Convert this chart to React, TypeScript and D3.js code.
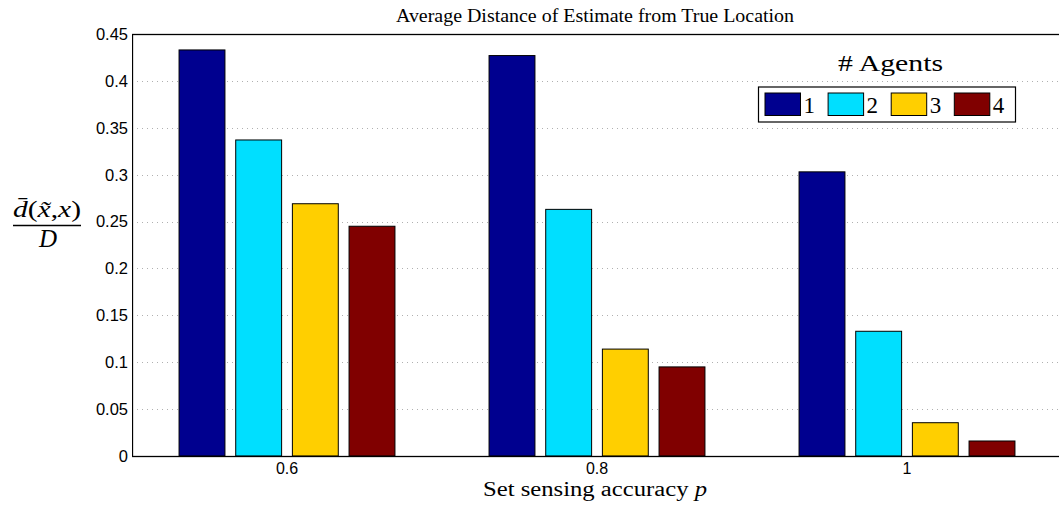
import React from "react";
import * as d3 from "d3";

const categories = ["0.6", "0.8", "1"];
const categoryValues = [0.6, 0.8, 1.0];
const seriesNames = ["1", "2", "3", "4"];
const seriesColors = ["#00008F", "#00DFFF", "#FFCF00", "#800000"];
// average normalised distance, one array per agent count
const agents1 = [0.433, 0.427, 0.303];
const agents2 = [0.337, 0.263, 0.133];
const agents3 = [0.269, 0.114, 0.0355];
const agents4 = [0.245, 0.095, 0.016];
const yTicks = [0, 0.05, 0.1, 0.15, 0.2, 0.25, 0.3, 0.35, 0.4, 0.45];

const W = 1059;
const H = 508;
const M = { left: 132, top: 34, right: 1062, bottom: 456 };
const serif = "'Liberation Serif', 'DejaVu Serif', serif";
const sans = "'Liberation Sans', Arial, sans-serif";

export default function App() {
  const series = [agents1, agents2, agents3, agents4];
  const x = d3.scaleLinear().domain([0.5, 1.1]).range([M.left, M.right]);
  const y = d3.scaleLinear().domain([0, 0.45]).range([M.bottom, M.top]);
  const groupStep = x(0.8) - x(0.6);
  const pitch = groupStep * 0.1828;
  const barW = pitch * 0.81;
  const offsets = d3.range(4).map((i) => (i - 1.5) * pitch);

  return (
    <svg
      width={W}
      height={H}
      style={{ position: "absolute", left: 0, top: 0, background: "#fff" }}
    >
      <defs>
        <clipPath id="plotClip">
          <rect x={M.left} y={M.top - 2} width={W - M.left} height={M.bottom - M.top + 4} />
        </clipPath>
      </defs>
      <g clipPath="url(#plotClip)">
        {yTicks.slice(1, -1).map((t) => (
          <line
            key={t}
            x1={M.left}
            x2={M.right}
            y1={Math.round(y(t)) + 0.5}
            y2={Math.round(y(t)) + 0.5}
            stroke="#b0b0b0"
            strokeWidth={1}
            strokeDasharray="1,4"
          />
        ))}
        {series.map((vals, si) =>
          vals.map((v, ci) => {
            const cx = x(categoryValues[ci]) + offsets[si];
            return (
              <rect
                key={`${si}-${ci}`}
                x={cx - barW / 2}
                y={y(v)}
                width={barW}
                height={y(0) - y(v)}
                fill={seriesColors[si]}
                stroke="#000"
                strokeWidth={1}
              />
            );
          })
        )}
        <rect
          x={M.left + 0.5}
          y={M.top + 0.5}
          width={M.right - M.left}
          height={M.bottom - M.top}
          fill="none"
          stroke="#000"
          strokeWidth={1.3}
        />
      </g>
      {yTicks.map((t) => (
        <text
          key={t}
          x={128}
          y={y(t)}
          dy="0.36em"
          textAnchor="end"
          fontFamily={sans}
          fontSize={16.5}
          fill="#000"
        >
          {t === 0 ? "0" : d3.format("")(t)}
        </text>
      ))}
      {categories.map((c, i) => (
        <text
          key={c}
          x={x(categoryValues[i])}
          y={474}
          textAnchor="middle"
          fontFamily={sans}
          fontSize={16}
          fill="#000"
        >
          {c}
        </text>
      ))}
      <text
        x={595}
        y={22}
        textAnchor="middle"
        fontFamily={serif}
        fontSize={19}
        textLength={398}
        lengthAdjust="spacingAndGlyphs"
        fill="#000"
      >
        Average Distance of Estimate from True Location
      </text>
      <text
        x={595}
        y={496}
        textAnchor="middle"
        fontFamily={serif}
        fontSize={20}
        textLength={224}
        lengthAdjust="spacingAndGlyphs"
        fill="#000"
      >
        Set sensing accuracy <tspan fontStyle="italic">p</tspan>
      </text>
      <g fontFamily={serif} fill="#000">
        <text
          x={47}
          y={217}
          textAnchor="middle"
          fontSize={24}
          textLength={68}
          lengthAdjust="spacingAndGlyphs"
        >
          <tspan fontStyle="italic">{"d\u0304"}</tspan>
          <tspan>(</tspan>
          <tspan fontStyle="italic">{"x\u0303"}</tspan>
          <tspan>,</tspan>
          <tspan fontStyle="italic">x</tspan>
          <tspan>)</tspan>
        </text>
        <line x1={13} x2={81} y1={225.5} y2={225.5} stroke="#000" strokeWidth={1.3} />
        <text x={48} y={247} textAnchor="middle" fontStyle="italic" fontSize={25}>
          D
        </text>
      </g>
      <text
        x={890.5}
        y={71}
        textAnchor="middle"
        fontFamily={serif}
        fontSize={23}
        textLength={105}
        lengthAdjust="spacingAndGlyphs"
        fill="#000"
      >
        # Agents
      </text>
      <rect x={758.5} y={87} width={257} height={35} fill="#fff" stroke="#000" strokeWidth={1.2} />
      {seriesNames.map((n, i) => {
        const sx = 765 + i * 63.1;
        return (
          <g key={n}>
            <rect x={sx} y={93} width={35.5} height={22.5} fill={seriesColors[i]} stroke="#000" strokeWidth={1} />
            <text x={sx + 38.5} y={113} fontFamily={serif} fontSize={23} fill="#000">
              {n}
            </text>
          </g>
        );
      })}
    </svg>
  );
}
